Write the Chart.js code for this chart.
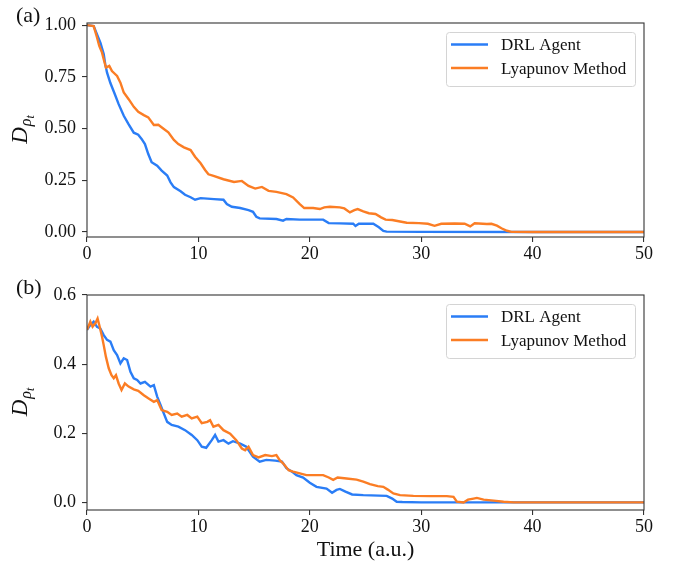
<!DOCTYPE html>
<html><head><meta charset="utf-8">
<script src="https://cdn.jsdelivr.net/npm/chart.js@4/dist/chart.umd.min.js"></script>
<style>
html,body{margin:0;padding:0;background:#fff;}
#wrap{position:relative;width:676px;height:562px;background:#fff;}
#ca{position:absolute;left:0;top:0;}
#cb{position:absolute;left:0;top:270px;}
</style></head><body>
<div id="wrap"><canvas id="ca" width="676" height="270"></canvas><canvas id="cb" width="676" height="292"></canvas></div>
<script>
// ---------- data ----------
const seriesNames = ['DRL Agent', 'Lyapunov Method'];
const xTicks = [0, 10, 20, 30, 40, 50];

// panel (a)
const drlA_t = [0,0.6,0.9,1.2,1.5,1.64,1.8,2.1,2.5,2.84,3.3,3.74,4.2,4.6,4.9,5.2,5.5,5.8,6.3,6.7,7.2,7.5,7.8,8.4,8.8,9.3,9.7,10.2,11.1,11.4,12.25,12.55,13.0,13.75,14.5,14.9,15.2,15.5,17.0,17.6,17.9,19.1,20.3,21.2,21.7,22.7,23.9,24.1,24.4,25.7,26.2,26.6,26.9,30,40,50];
const drlA_v = [1.0,0.995,0.955,0.915,0.86,0.81,0.77,0.72,0.666,0.618,0.562,0.52,0.48,0.47,0.45,0.425,0.377,0.337,0.32,0.297,0.273,0.24,0.217,0.197,0.18,0.168,0.156,0.164,0.16,0.159,0.156,0.135,0.122,0.116,0.106,0.098,0.074,0.066,0.063,0.055,0.063,0.060,0.060,0.060,0.043,0.042,0.040,0.029,0.040,0.040,0.023,0.005,0.002,0.001,0,0];
const lyaA_t = [0,0.6,0.9,1.1,1.35,1.5,1.7,2.0,2.24,2.7,3.0,3.3,3.74,4.2,4.6,5.1,5.5,6.0,6.4,6.9,7.3,7.8,8.2,8.7,9.3,9.7,10.2,10.6,10.9,11.36,12.25,13.2,13.9,14.5,15.1,15.7,16.3,17.0,17.9,18.5,19.1,19.5,20.3,20.9,21.3,21.8,22.7,23.1,23.6,24.0,24.3,24.8,25.3,25.9,26.4,26.8,27.4,28.1,28.7,29.8,30.6,31.2,31.8,33.0,33.9,34.4,34.8,35.9,36.3,36.8,37.2,37.7,38.1,40,50];
const lyaA_v = [1.0,0.995,0.94,0.90,0.867,0.835,0.795,0.803,0.778,0.754,0.722,0.674,0.642,0.605,0.581,0.565,0.554,0.517,0.518,0.498,0.482,0.445,0.425,0.409,0.396,0.364,0.332,0.30,0.279,0.271,0.255,0.242,0.247,0.223,0.210,0.218,0.199,0.194,0.183,0.167,0.135,0.116,0.116,0.111,0.119,0.122,0.119,0.114,0.095,0.106,0.111,0.100,0.091,0.087,0.071,0.060,0.058,0.051,0.045,0.043,0.040,0.030,0.040,0.041,0.040,0.027,0.042,0.039,0.040,0.031,0.018,0.006,0.001,0,0];
const yTicksA = [0, 0.25, 0.5, 0.75, 1.0];
const yTickLabelsA = ['0.00', '0.25', '0.50', '0.75', '1.00'];

// panel (b)
const drlB_t = [0,0.3,0.6,0.9,1.2,1.5,1.8,2.1,2.4,2.7,3.0,3.3,3.6,3.9,4.2,4.5,4.8,5.2,5.7,6.0,6.3,6.6,6.9,7.2,7.6,8.2,8.8,9.4,9.9,10.3,10.7,11.2,11.5,11.8,12.25,12.7,13.1,13.75,14.3,14.9,15.5,16.1,16.9,17.5,17.9,18.4,18.8,19.4,20.0,20.6,21.5,22.0,22.4,22.7,23.2,23.8,24.8,26.9,27.4,27.8,28.3,30,40,50];
const drlB_v = [0.499,0.513,0.523,0.508,0.503,0.484,0.47,0.465,0.44,0.426,0.402,0.417,0.412,0.378,0.359,0.354,0.344,0.349,0.335,0.339,0.306,0.282,0.257,0.233,0.224,0.219,0.209,0.195,0.180,0.161,0.158,0.18,0.195,0.176,0.180,0.170,0.177,0.170,0.161,0.132,0.118,0.123,0.121,0.118,0.099,0.089,0.079,0.072,0.057,0.045,0.040,0.028,0.036,0.039,0.031,0.023,0.021,0.019,0.011,0.002,0.001,0,0,0];
const lyaB_t = [0,0.3,0.5,0.75,0.95,1.1,1.35,1.5,1.7,1.95,2.2,2.4,2.6,2.84,3.1,3.4,3.74,4.2,4.6,5.1,5.5,6.0,6.3,6.7,7.2,7.6,8.1,8.5,9.0,9.4,9.9,10.3,10.8,11.05,11.35,11.8,12.25,12.85,13.4,13.9,14.2,14.5,14.9,15.4,16.0,16.6,17.0,17.3,17.6,18.1,18.5,19.1,19.7,21.2,21.7,22.1,22.5,23.3,24.2,24.8,25.4,26.1,26.6,27.0,27.5,28.1,29.3,30.8,32.3,32.9,33.2,33.8,34.2,34.7,35.0,35.6,36.5,37.4,38.3,40,50];
const lyaB_v = [0.499,0.523,0.508,0.518,0.532,0.513,0.479,0.455,0.421,0.388,0.368,0.359,0.368,0.344,0.325,0.344,0.335,0.327,0.323,0.310,0.301,0.291,0.296,0.267,0.262,0.253,0.257,0.248,0.253,0.243,0.248,0.229,0.233,0.238,0.219,0.224,0.209,0.199,0.180,0.156,0.151,0.161,0.137,0.130,0.137,0.134,0.137,0.122,0.113,0.093,0.089,0.084,0.079,0.079,0.072,0.065,0.072,0.069,0.066,0.060,0.053,0.047,0.045,0.037,0.026,0.021,0.019,0.018,0.018,0.016,0.002,0.0,0.008,0.011,0.013,0.008,0.005,0.002,0,0,0];
const yTicksB = [0, 0.2, 0.4, 0.6];
const yTickLabelsB = ['0.0', '0.2', '0.4', '0.6'];

// ---------- styling ----------
const BLUE = '#2a7df6';
const ORANGE = '#fb7d24';
const SERIF = '"Liberation Serif", "DejaVu Serif", serif';
const AXIS = '#333333';

function pts(t, v) { return t.map((x, i) => ({ x: x, y: v[i] })); }

function makeChart(canvas, opt) {
  const boxPlugin = {
    id: 'box' + opt.tag,
    afterDraw(chart) {
      const ctx = chart.ctx, a = chart.chartArea;
      ctx.save();
      // frame
      ctx.strokeStyle = AXIS; ctx.lineWidth = 1.1;
      ctx.strokeRect(a.left, a.top, a.right - a.left, a.bottom - a.top);
      // legend
      const bw = 189, bh = 54;
      const bx = a.right - 9 - bw, by = a.top + 9;
      ctx.beginPath();
      ctx.roundRect(bx + 0.5, by + 0.5, bw, bh, 3);
      ctx.fillStyle = 'rgba(255,255,255,0.85)'; ctx.fill();
      ctx.strokeStyle = '#d4d4d4'; ctx.lineWidth = 1; ctx.stroke();
      ctx.font = '17px ' + SERIF;
      ctx.textBaseline = 'middle'; ctx.textAlign = 'left';
      chart.data.datasets.forEach((ds, i) => {
        const ly = by + 12.5 + i * 23.5;
        ctx.strokeStyle = ds.borderColor; ctx.lineWidth = 2.4;
        ctx.beginPath(); ctx.moveTo(bx + 5, ly); ctx.lineTo(bx + 42, ly); ctx.stroke();
        ctx.fillStyle = '#111';
        ctx.fillText(ds.label, bx + 55, ly + 1.5);
      });
      // panel tag
      ctx.font = '22px ' + SERIF; ctx.textBaseline = 'alphabetic'; ctx.fillStyle = '#111';
      ctx.fillText(opt.tag, 16, opt.tagY);
      // y label D_{rho_t}
      const cy = (a.top + a.bottom) / 2;
      ctx.translate(27, cy);
      ctx.rotate(-Math.PI / 2);
      const f1 = 'italic 23px ' + SERIF, f2 = 'italic 16px ' + SERIF, f3 = 'italic 12px ' + SERIF;
      ctx.font = f1; const w1 = ctx.measureText('D').width;
      ctx.font = f2; const w2 = ctx.measureText('ρ').width;
      ctx.font = f3; const w3 = ctx.measureText('t').width;
      let x0 = -(w1 + w2 + w3) / 2;
      ctx.font = f1; ctx.fillText('D', x0, 0);
      ctx.font = f2; ctx.fillText('ρ', x0 + w1 + 1, 4);
      ctx.font = f3; ctx.fillText('t', x0 + w1 + w2 + 1, 7);
      ctx.setTransform(1, 0, 0, 1, 0, 0);
      // x label
      if (opt.xlabel) {
        ctx.font = '22px ' + SERIF; ctx.textAlign = 'center'; ctx.textBaseline = 'alphabetic';
        ctx.fillStyle = '#111';
        ctx.fillText(opt.xlabel, (a.left + a.right) / 2, opt.xlabelY);
      }
      ctx.restore();
    }
  };
  return new Chart(canvas, {
    type: 'line',
    data: {
      datasets: [
        { label: seriesNames[0], data: pts(opt.t1, opt.v1), borderColor: BLUE, borderWidth: 2.4, pointRadius: 0, tension: 0, order: 2 },
        { label: seriesNames[1], data: pts(opt.t2, opt.v2), borderColor: ORANGE, borderWidth: 2.4, pointRadius: 0, tension: 0, order: 1 }
      ]
    },
    options: {
      responsive: false, animation: false, devicePixelRatio: 1,
      layout: { padding: { left: 0, right: 32, top: opt.padTop, bottom: 0 } },
      plugins: { legend: { display: false }, tooltip: { enabled: false } },
      scales: {
        x: {
          type: 'linear', min: 0, max: 50,
          afterBuildTicks: s => { s.ticks = xTicks.map(v => ({ value: v })); },
          afterFit: s => { s.height = opt.xh; },
          grid: { display: true, drawOnChartArea: false, drawTicks: true, tickLength: 5, color: AXIS, lineWidth: 1.1 },
          border: { display: false },
          ticks: { font: { family: SERIF, size: 18 }, color: '#111', padding: 1, maxRotation: 0, autoSkip: false }
        },
        y: {
          type: 'linear', min: opt.ymin, max: opt.ymax,
          afterBuildTicks: s => { s.ticks = opt.yt.map(v => ({ value: v })); },
          afterFit: s => { s.width = 87; },
          grid: { display: true, drawOnChartArea: false, drawTicks: true, tickLength: 5, color: AXIS, lineWidth: 1.1 },
          border: { display: false },
          ticks: { font: { family: SERIF, size: 18 }, color: '#111', padding: 6, autoSkip: false,
                   callback: (v) => { const i = opt.yt.findIndex(q => Math.abs(q - v) < 1e-9); return i >= 0 ? opt.yl[i] : ''; } }
        }
      }
    },
    plugins: [boxPlugin]
  });
}

makeChart(document.getElementById('ca'), {
  tag: '(a)', tagY: 22, t1: drlA_t, v1: drlA_v, t2: lyaA_t, v2: lyaA_v,
  ymin: -0.024, ymax: 1.01, yt: yTicksA, yl: yTickLabelsA, padTop: 23, xh: 33
});
makeChart(document.getElementById('cb'), {
  tag: '(b)', tagY: 24, t1: drlB_t, v1: drlB_v, t2: lyaB_t, v2: lyaB_v,
  ymin: -0.022, ymax: 0.6, yt: yTicksB, yl: yTickLabelsB, padTop: 25, xh: 52,
  xlabel: 'Time (a.u.)', xlabelY: 286
});
</script>
</body></html>
